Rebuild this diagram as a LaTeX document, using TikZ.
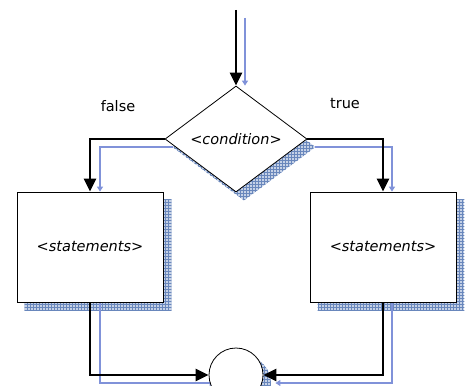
\documentclass[tikz,border=0pt]{standalone}
\usepackage{fontspec}
\setmainfont{DejaVu Sans}
\usetikzlibrary{arrows.meta,positioning,shapes.geometric,patterns,backgrounds}

\definecolor{shade}{RGB}{150,172,210}
\definecolor{shadeline}{RGB}{105,135,188}

\tikzset{
  every node/.style={font=\fontsize{14.5}{16}\selectfont},
  box/.style={draw, line width=0.8pt, fill=white, minimum width=146pt, minimum height=110pt, inner sep=0pt},
  cond/.style={diamond, draw, line width=0.8pt, fill=white, minimum width=142pt, minimum height=106pt, inner sep=0pt},
  endcircle/.style={circle, draw, line width=0.8pt, fill=white, minimum size=54pt, inner sep=0pt},
  flow/.style={line width=2.4pt, -{Triangle[length=13pt,width=12pt]}},
  shadow/.style={preaction={fill=shade!55}, pattern=grid, pattern color=shadeline},
  ghost/.style={draw=shade!85!blue, line width=1.3pt, -{Triangle[length=5pt,width=6pt]}}
}

\begin{document}
\begin{tikzpicture}[x=1pt, y=-1pt]
  \useasboundingbox (0,0) rectangle (465,385);
  \clip (0,0) rectangle (465,385);
  \coordinate (start) at (236,10);
  \node[cond] (test) at (236,139) {\textit{<condition>}};
  \node[box] (lbox) at (90,247) {\textit{<statements>}};
  \node[box] (rbox) at (383,247) {\textit{<statements>}};
  \node[endcircle] (merge) at (236,375) {};
  \node (f) at (118,106) {false};
  \node (t) at (345,104) {true};
  % shadows
  \begin{scope}[on background layer]
    \clip (0,0) rectangle (465,385);
    \fill[shadow] ([shift={(8,8)}]lbox.north west) rectangle ([shift={(8,8)}]lbox.south east);
    \fill[shadow] ([shift={(8,8)}]rbox.north west) rectangle ([shift={(8,8)}]rbox.south east);
    \fill[shadow] ([shift={(8,8)}]test.north) -- ([shift={(8,8)}]test.east)
      -- ([shift={(8,8)}]test.south) -- ([shift={(8,8)}]test.west) -- cycle;
    \fill[shadow] ([shift={(8,8)}]merge.center) circle (27);
    \draw[ghost] ([shift={(9,8)}]start) -- ([shift={(9,0)}]test.north);
    \draw[ghost] ([shift={(8,8)}]test.west) -| ([shift={(10,0)}]lbox.north);
    \draw[ghost] ([shift={(8,8)}]test.east) -| ([shift={(9,0)}]rbox.north);
    \draw[ghost] ([shift={(10,0)}]lbox.south) |- ([shift={(6,8)}]merge.west);
    \draw[ghost] ([shift={(9,0)}]rbox.south) |- ([shift={(12,8)}]merge.east);
  \end{scope}
  % connectors
  \draw[flow] (start) -- (test.north);
  \draw[flow] (test.west) -| (lbox.north);
  \draw[flow] (test.east) -| (rbox.north);
  \draw[flow] (lbox.south) |- (merge.west);
  \draw[flow] (rbox.south) |- (merge.east);
\end{tikzpicture}
\end{document}
